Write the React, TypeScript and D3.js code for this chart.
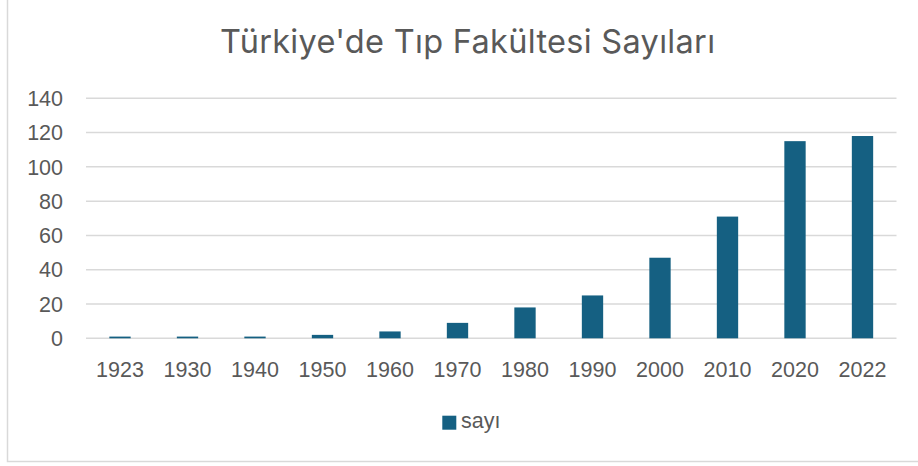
import React from "react";
import * as d3 from "d3";

const years = ["1923", "1930", "1940", "1950", "1960", "1970", "1980", "1990", "2000", "2010", "2020", "2022"];
const counts = [1, 1, 1, 2, 4, 9, 18, 25, 47, 71, 115, 118];
const yTicks = [0, 20, 40, 60, 80, 100, 120, 140];
const title = "Türkiye'de Tıp Fakültesi Sayıları";
const seriesName = "sayı";

const W = 918;
const H = 466;
const textColor = "#595959";
const gridColor = "#d9d9d9";
const barColor = "#156082";
const tickFont = "'Liberation Sans', Arial, sans-serif";

export default function App() {
  const x = d3
    .scaleBand<string>()
    .domain(years)
    .range([86.25, 896.25])
    .paddingInner(0.684)
    .paddingOuter(0.342);
  const y = d3.scaleLinear().domain([0, 140]).range([338.3, 98.3]);

  return (
    <svg
      width={W}
      height={H}
      style={{ position: "absolute", left: 0, top: 0, background: "#fff" }}
    >
      <rect x={0} y={0} width={W} height={H} fill="#fff" />
      <path d={`M7.5,-5 V461.5 H${W + 5}`} fill="none" stroke={gridColor} strokeWidth={1.5} />
      <text
        x={467.5}
        y={53.3}
        textAnchor="middle"
        fill={textColor}
        textLength={495}
        lengthAdjust="spacing"
        style={{ fontFamily: "Inter, Roboto, sans-serif", fontSize: 32.5 }}
      >
        {title}
      </text>
      {yTicks.map((t) => (
        <g key={t}>
          <line x1={86} x2={896.5} y1={y(t)} y2={y(t)} stroke={gridColor} strokeWidth={1.5} />
          <text
            x={63}
            y={y(t)}
            dy="0.36em"
            textAnchor="end"
            fill={textColor}
            style={{ fontFamily: tickFont, fontSize: 21.5 }}
          >
            {t}
          </text>
        </g>
      ))}
      {years.map((yr, i) => (
        <rect
          key={yr}
          x={x(yr)}
          y={y(counts[i])}
          width={x.bandwidth()}
          height={y(0) - y(counts[i])}
          fill={barColor}
        />
      ))}
      {years.map((yr) => (
        <text
          key={yr}
          x={(x(yr) as number) + x.bandwidth() / 2}
          y={376.7}
          textAnchor="middle"
          fill={textColor}
          style={{ fontFamily: tickFont, fontSize: 21.5 }}
        >
          {yr}
        </text>
      ))}
      <rect x={442.3} y={415.7} width={14} height={14} fill={barColor} />
      <text
        x={461}
        y={428.3}
        fill={textColor}
        style={{ fontFamily: tickFont, fontSize: 21.5 }}
      >
        {seriesName}
      </text>
    </svg>
  );
}
